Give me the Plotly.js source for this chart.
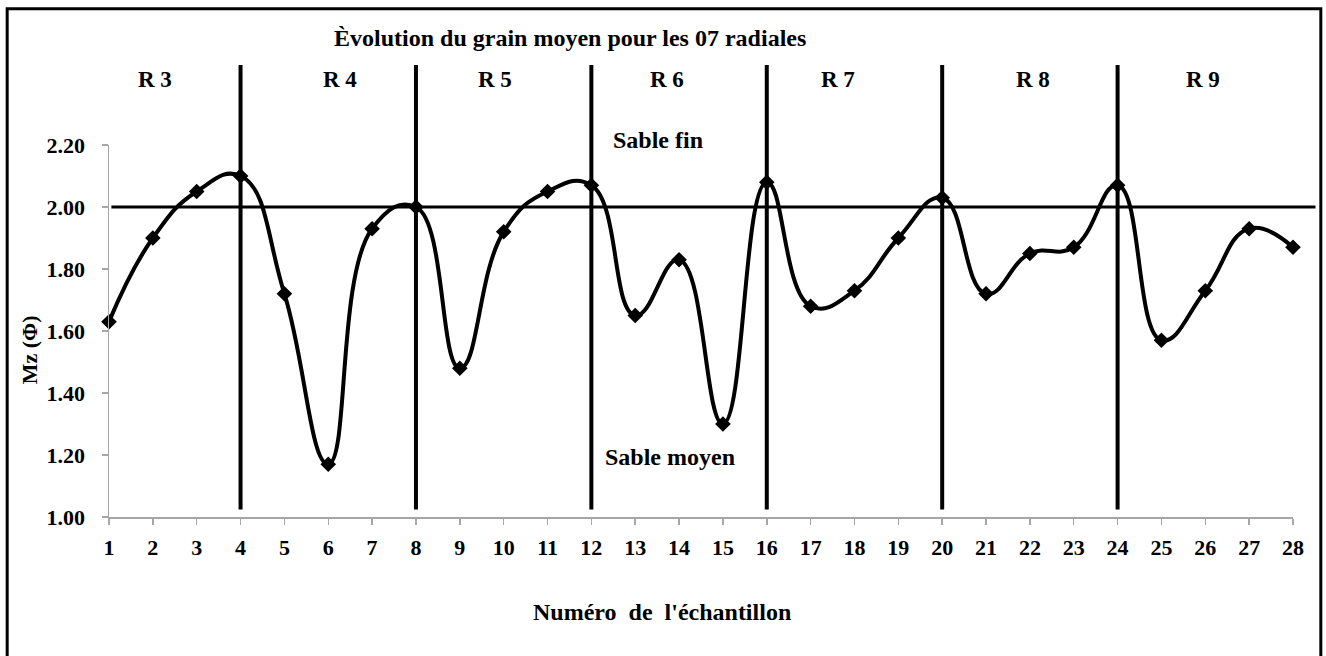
<!DOCTYPE html>
<html>
<head>
<meta charset="utf-8">
<script src="https://cdn.plot.ly/plotly-3.0.1.min.js"></script>
<style>
html,body{margin:0;padding:0;background:#fff;}
#chart{width:1326px;height:656px;}
</style>
</head>
<body>
<div id="chart"></div>
<script>
// Data
const samples = [1,2,3,4,5,6,7,8,9,10,11,12,13,14,15,16,17,18,19,20,21,22,23,24,25,26,27,28];
const mz = [1.63,1.90,2.05,2.10,1.72,1.17,1.93,2.00,1.48,1.92,2.05,2.07,1.65,1.83,1.30,2.08,1.68,1.73,1.90,2.03,1.72,1.85,1.87,2.07,1.57,1.73,1.93,1.87];
const radialLabels = ['R 3','R 4','R 5','R 6','R 7','R 8','R 9'];
const radialBounds = [4,8,12,16,20,24];
const threshold = 2.00;
const yTicks = [1.0,1.2,1.4,1.6,1.8,2.0,2.2];

// Layout positions (paper coords) for the radial labels
const radialLabelX = [0.039,0.195,0.326,0.471,0.616,0.780,0.924];

const FONT = "'Liberation Serif', 'Times New Roman', serif";

const trace = {
  x: samples, y: mz, type: 'scatter', mode: 'lines+markers',
  line: {color: '#000', width: 4, shape: 'spline', smoothing: 1.3},
  marker: {symbol: 'diamond', size: 12, color: '#000'},
  cliponaxis: false, hoverinfo: 'x+y'
};

const shapes = [];
radialBounds.forEach(b => shapes.push({
  type: 'line', xref: 'x', yref: 'paper', x0: b, x1: b, y0: 0.02, y1: 1.215,
  line: {color: '#000', width: 4}, layer: 'below'
}));
shapes.push({type: 'line', xref: 'paper', yref: 'y', x0: 0.002, x1: 1.019, y0: threshold, y1: threshold,
  line: {color: '#000', width: 3}, layer: 'below'});
shapes.push({type: 'rect', xref: 'paper', yref: 'paper', x0: -0.086, x1: 1.0235, y0: -0.5, y1: 1.366,
  line: {color: '#000', width: 3}, fillcolor: 'rgba(0,0,0,0)', layer: 'below'});

const annotations = [];
radialLabels.forEach((t, i) => annotations.push({
  text: '<b>' + t + '</b>', xref: 'paper', yref: 'paper', x: radialLabelX[i], y: 1.175,
  xanchor: 'center', yanchor: 'middle', showarrow: false, font: {family: FONT, size: 23, color: '#000'}
}));
annotations.push({text: '<b>Èvolution du grain moyen pour les 07 radiales</b>', xref: 'paper', yref: 'paper',
  x: 0.3894, y: 1.288, xanchor: 'center', yanchor: 'middle', showarrow: false, font: {family: FONT, size: 24, color: '#000'}});
annotations.push({text: '<b>Sable fin</b>', xref: 'paper', yref: 'paper', x: 0.4637, y: 1.013,
  xanchor: 'center', yanchor: 'middle', showarrow: false, font: {family: FONT, size: 24, color: '#000'}});
annotations.push({text: '<b>Sable moyen</b>', xref: 'paper', yref: 'paper', x: 0.4738, y: 0.161,
  xanchor: 'center', yanchor: 'middle', showarrow: false, font: {family: FONT, size: 24, color: '#000'}});
annotations.push({text: '<b>Numéro&nbsp; de&nbsp; l\'échantillon</b>', xref: 'paper', yref: 'paper', x: 0.467, y: -0.255,
  xanchor: 'center', yanchor: 'middle', showarrow: false, font: {family: FONT, size: 24, color: '#000'}});
annotations.push({text: '<b>Mz (Φ)</b>', xref: 'paper', yref: 'paper', x: -0.067, y: 0.45, textangle: -90,
  xanchor: 'center', yanchor: 'middle', showarrow: false, font: {family: FONT, size: 22, color: '#000'}});

const layout = {
  width: 1326, height: 656,
  margin: {l: 109, r: 33, t: 145, b: 139},
  paper_bgcolor: '#fff', plot_bgcolor: 'rgba(0,0,0,0)',
  showlegend: false,
  font: {family: FONT, color: '#000'},
  xaxis: {
    range: [1, 28], tickmode: 'array', tickvals: samples, ticktext: samples.map(s => '<b>' + s + '</b>'),
    showgrid: false, zeroline: false, showline: true, linecolor: '#a6a6a6', linewidth: 1.5,
    ticks: 'outside', ticklen: 6, tickcolor: '#a6a6a6', tickwidth: 1.5,
    tickfont: {family: FONT, size: 22, color: '#000'}, ticklabelstandoff: 4
  },
  yaxis: {
    range: [1, 2.2], tickmode: 'array', tickvals: yTicks, ticktext: yTicks.map(v => '<b>' + v.toFixed(2) + '</b>'),
    showgrid: false, zeroline: false, showline: true, linecolor: '#a6a6a6', linewidth: 1.5,
    ticks: 'outside', ticklen: 6, tickcolor: '#a6a6a6', tickwidth: 1.5,
    tickfont: {family: FONT, size: 22, color: '#000'}, ticklabelstandoff: 12
  },
  shapes: shapes,
  annotations: annotations
};

Plotly.newPlot('chart', [trace], layout, {displayModeBar: false, staticPlot: true});
</script>
</body>
</html>
